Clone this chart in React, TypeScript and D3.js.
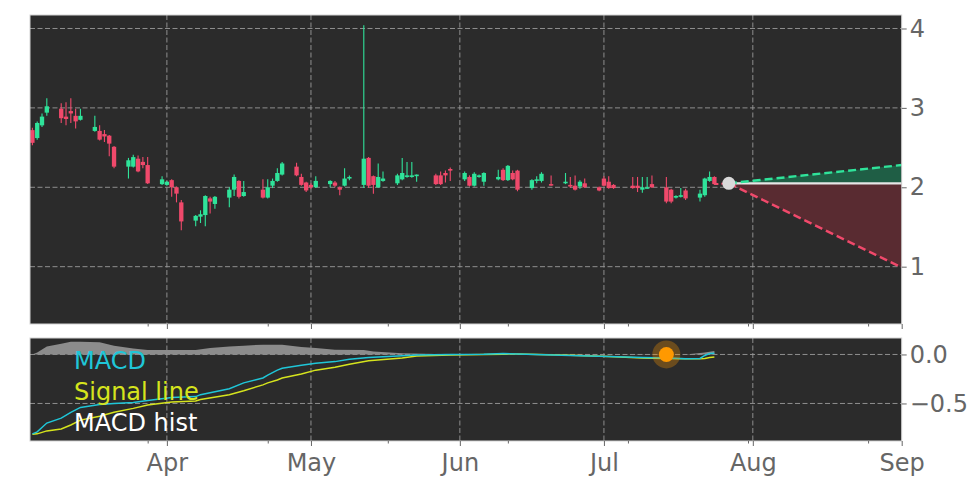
import React, { useEffect, useRef } from 'react'
import * as d3 from 'd3'

// daily candles (trading days, 2025)
const candleDates = [
  '2025-03-04', '2025-03-05', '2025-03-06', '2025-03-07', '2025-03-10', '2025-03-11', '2025-03-12', '2025-03-13', '2025-03-14',
  '2025-03-17', '2025-03-18', '2025-03-19', '2025-03-20', '2025-03-21', '2025-03-24', '2025-03-25', '2025-03-26', '2025-03-27',
  '2025-03-28', '2025-03-31', '2025-04-01', '2025-04-02', '2025-04-03', '2025-04-04', '2025-04-07', '2025-04-08', '2025-04-09',
  '2025-04-10', '2025-04-11', '2025-04-14', '2025-04-15', '2025-04-16', '2025-04-17', '2025-04-21', '2025-04-22', '2025-04-23',
  '2025-04-24', '2025-04-25', '2025-04-28', '2025-04-29', '2025-04-30', '2025-05-01', '2025-05-02', '2025-05-05', '2025-05-06',
  '2025-05-07', '2025-05-08', '2025-05-09', '2025-05-12', '2025-05-13', '2025-05-14', '2025-05-15', '2025-05-16', '2025-05-19',
  '2025-05-20', '2025-05-21', '2025-05-22', '2025-05-23', '2025-05-27', '2025-05-28', '2025-05-29', '2025-05-30', '2025-06-02',
  '2025-06-03', '2025-06-04', '2025-06-05', '2025-06-06', '2025-06-09', '2025-06-10', '2025-06-11', '2025-06-12', '2025-06-13',
  '2025-06-16', '2025-06-17', '2025-06-18', '2025-06-20', '2025-06-23', '2025-06-24', '2025-06-25', '2025-06-26', '2025-06-27',
  '2025-06-30', '2025-07-01', '2025-07-02', '2025-07-03', '2025-07-07', '2025-07-08', '2025-07-09', '2025-07-10', '2025-07-11',
  '2025-07-14', '2025-07-15', '2025-07-16', '2025-07-17', '2025-07-18', '2025-07-21', '2025-07-22', '2025-07-23', '2025-07-24',
]
const opens = [
  2.72, 2.62, 2.78, 2.94, 2.99, 2.89, 2.96, 2.90, 2.85,
  2.71, 2.71, 2.67, 2.65, 2.51, 2.26, 2.26, 2.36, 2.32,
  2.28, 2.04, 2.03, 2.09, 2.00, 1.81, 1.58, 1.63, 1.65,
  1.86, 1.79, 1.87, 1.97, 2.08, 1.89, 1.97, 1.87, 2.02,
  2.08, 2.16, 2.26, 2.13, 2.06, 2.03, 2.00, 2.04, 2.06,
  2.00, 2.02, 2.11, 2.03, 2.37, 2.14, 2.00, 2.08, 2.05,
  2.10, 2.13, 2.13, 2.14, 2.15, 2.15, 2.18, 2.23, 2.10,
  2.13, 2.02, 2.13, 2.07, 2.10, 2.22, 2.09, 2.18, 2.21,
  1.99, 2.08, 2.08, 2.04, 2.05, 2.03, 2.02, 2.01, 2.05,
  2.00, 2.11, 2.07, 2.03, 2.02, 2.02, 1.97, 1.99, 2.04,
  2.00, 1.97, 1.87, 1.88, 1.96, 1.87, 1.90, 2.08, 2.13,
]
const highs = [
  2.75, 2.83, 2.93, 3.12, 3.06, 3.07, 3.12, 2.99, 2.99,
  2.90, 2.78, 2.72, 2.66, 2.52, 2.37, 2.41, 2.40, 2.38,
  2.38, 2.14, 2.08, 2.10, 2.01, 1.84, 1.65, 1.71, 1.90,
  1.88, 1.89, 2.00, 2.16, 2.09, 2.08, 2.10, 2.10, 2.11,
  2.24, 2.32, 2.31, 2.17, 2.07, 2.05, 2.14, 2.09, 2.08,
  2.01, 2.24, 2.15, 4.04, 2.38, 2.15, 2.30, 2.20, 2.17,
  2.37, 2.32, 2.32, 2.16, 2.17, 2.20, 2.21, 2.25, 2.20,
  2.15, 2.19, 2.16, 2.19, 2.22, 2.24, 2.28, 2.21, 2.22,
  2.10, 2.14, 2.19, 2.15, 2.18, 2.13, 2.15, 2.09, 2.11,
  2.01, 2.14, 2.14, 2.04, 2.13, 2.13, 2.13, 2.13, 2.15,
  2.13, 1.98, 1.90, 1.99, 1.98, 1.97, 2.12, 2.20, 2.14,
]
const lows = [
  2.53, 2.60, 2.76, 2.90, 2.81, 2.78, 2.81, 2.74, 2.84,
  2.70, 2.59, 2.57, 2.39, 2.24, 2.11, 2.25, 2.19, 2.24,
  2.04, 2.03, 2.02, 1.88, 1.81, 1.46, 1.51, 1.55, 1.51,
  1.67, 1.73, 1.75, 1.89, 1.86, 1.88, 1.86, 1.86, 1.99,
  2.07, 2.15, 2.14, 2.02, 1.94, 1.98, 1.99, 2.00, 2.00,
  1.90, 2.01, 2.09, 1.99, 1.99, 1.92, 1.99, 2.07, 2.03,
  2.09, 2.12, 2.12, 2.07, 2.03, 2.03, 2.06, 2.08, 2.08,
  2.01, 2.01, 2.12, 2.02, 2.09, 2.08, 2.08, 2.09, 1.95,
  1.97, 2.05, 2.06, 2.02, 2.04, 1.99, 1.96, 1.98, 1.99,
  1.95, 2.01, 1.98, 1.98, 1.98, 1.94, 1.93, 1.98, 1.99,
  1.80, 1.80, 1.86, 1.87, 1.84, 1.82, 1.88, 2.07, 2.03,
]
const closes = [
  2.56, 2.81, 2.89, 3.02, 2.87, 2.86, 2.93, 2.83, 2.90,
  2.76, 2.60, 2.64, 2.55, 2.26, 2.34, 2.38, 2.20, 2.28,
  2.05, 2.10, 2.07, 2.00, 1.92, 1.57, 1.64, 1.66, 1.89,
  1.82, 1.88, 1.97, 2.13, 1.88, 1.94, 1.87, 2.00, 2.08,
  2.18, 2.30, 2.15, 2.03, 1.96, 2.00, 2.08, 2.08, 2.02,
  1.97, 2.11, 2.13, 2.36, 2.02, 2.03, 2.13, 2.11, 2.15,
  2.18, 2.15, 2.15, 2.16, 2.04, 2.04, 2.15, 2.21, 2.18,
  2.02, 2.17, 2.15, 2.18, 2.13, 2.09, 2.27, 2.10, 1.97,
  2.09, 2.10, 2.17, 2.03, 2.07, 2.01, 1.97, 2.07, 2.00,
  1.96, 2.02, 1.99, 1.99, 1.99, 1.99, 2.00, 2.00, 2.00,
  1.82, 1.82, 1.89, 1.90, 1.86, 1.92, 2.11, 2.13, 2.04,
]

// forecast cone
const forecastDates = ['2025-07-27', '2025-09-01']
const forecastFlat = [2.05, 2.05]
const forecastUpper = [2.05, 2.28]
const forecastLower = [2.05, 0.99]

// MACD panel
const macdDates = [
  '2025-03-04', '2025-03-05', '2025-03-07', '2025-03-10', '2025-03-12', '2025-03-14', '2025-03-18', '2025-03-21',
  '2025-03-25', '2025-03-28', '2025-04-02', '2025-04-07', '2025-04-08', '2025-04-14', '2025-04-17', '2025-04-21',
  '2025-04-22', '2025-04-24', '2025-04-25', '2025-04-29', '2025-05-02', '2025-05-06', '2025-05-09', '2025-05-13',
  '2025-05-20', '2025-05-23', '2025-05-30', '2025-06-06', '2025-06-10', '2025-06-13', '2025-06-24', '2025-07-02',
  '2025-07-09', '2025-07-14', '2025-07-18', '2025-07-21', '2025-07-22', '2025-07-23', '2025-07-24',
]
const macdValues = [
  -0.81, -0.79, -0.70, -0.65, -0.59, -0.54, -0.51, -0.50,
  -0.49, -0.47, -0.44, -0.43, -0.41, -0.35, -0.29, -0.24,
  -0.21, -0.16, -0.14, -0.11, -0.09, -0.073, -0.05, -0.03,
  -0.012, -0.005, 0.0, 0.003, 0.01, 0.005, -0.01, -0.02,
  -0.03, -0.035, -0.045, -0.04, -0.01, 0.01, 0.012,
]
const signalValues = [
  -0.815, -0.81, -0.78, -0.76, -0.72, -0.67, -0.63, -0.59,
  -0.55, -0.515, -0.485, -0.475, -0.46, -0.41, -0.37, -0.31,
  -0.29, -0.26, -0.24, -0.20, -0.16, -0.13, -0.10, -0.065,
  -0.035, -0.015, -0.005, 0.0, 0.003, 0.005, -0.008, -0.02,
  -0.035, -0.04, -0.045, -0.045, -0.04, -0.03, -0.025,
]
const histDates = [
  '2025-03-04', '2025-03-05', '2025-03-07', '2025-03-10', '2025-03-12', '2025-03-14', '2025-03-18', '2025-03-21',
  '2025-03-25', '2025-03-28', '2025-04-02', '2025-04-07', '2025-04-10', '2025-04-14', '2025-04-17', '2025-04-21',
  '2025-04-25', '2025-04-29', '2025-05-02', '2025-05-06', '2025-05-12', '2025-05-14', '2025-05-20', '2025-05-27',
  '2025-06-02', '2025-06-13', '2025-06-24', '2025-07-09', '2025-07-18', '2025-07-22', '2025-07-24',
]
const histValues = [
  0.0, 0.02, 0.08, 0.11, 0.13, 0.13, 0.125, 0.09,
  0.06, 0.045, 0.045, 0.045, 0.065, 0.08, 0.09, 0.1,
  0.1, 0.075, 0.065, 0.047, 0.046, 0.03, 0.012, 0.005,
  0.0, 0.0, -0.003, 0.003, 0.0, 0.02, 0.035,
]
const crossDate = '2025-07-14'
const crossValue = 0.0

const monthTicks = ['2025-04-01', '2025-05-01', '2025-06-01', '2025-07-01', '2025-08-01', '2025-09-01']
const minorTicks = ['2025-03-28', '2025-04-22', '2025-05-17', '2025-06-11', '2025-07-06', '2025-07-31', '2025-08-25']
const priceTicks = [1, 2, 3, 4]
const macdTicks = [0, -0.5]

const GREEN = '#2fe39a'
const RED = '#f0496b'
const FONT = 'DejaVu Sans'

export default function App() {
  const ref = useRef<SVGSVGElement | null>(null)

  useEffect(() => {
    const svg = d3.select(ref.current!)
    svg.selectAll('*').remove()
    const parse = d3.timeParse('%Y-%m-%d')
    const P = (s: string) => parse(s) as Date

    const left = 30, right = 901.7
    const main = { top: 15, bottom: 324 }
    const sub = { top: 338, bottom: 441 }

    const x = d3.scaleTime().domain([new Date(2025, 2, 3, 12), new Date(2025, 8, 1)]).range([left, right])
    const y = d3.scaleLinear().domain([0.278, 4.17]).range([main.bottom, main.top])
    const ym = d3.scaleLinear().domain([-0.883, 0.168]).range([sub.bottom, sub.top])

    const panel = (p: { top: number; bottom: number }) =>
      svg.append('rect').attr('x', left).attr('y', p.top).attr('width', right - left).attr('height', p.bottom - p.top).attr('fill', '#2b2b2b')
    panel(main)
    panel(sub)

    const grid = svg.append('g').attr('stroke', '#9a9a9a').attr('stroke-width', 0.9).attr('stroke-dasharray', '5,2.5')
    const months = monthTicks.map(P)
    for (const p of [main, sub]) {
      grid.selectAll(null).data(months.slice(0, -1)).enter().append('line')
        .attr('x1', d => x(d)).attr('x2', d => x(d)).attr('y1', p.top).attr('y2', p.bottom)
    }
    grid.selectAll(null).data(priceTicks).enter().append('line')
      .attr('x1', left).attr('x2', right).attr('y1', d => y(d)).attr('y2', d => y(d))
    grid.selectAll(null).data(macdTicks).enter().append('line')
      .attr('x1', left).attr('x2', right).attr('y1', d => ym(d)).attr('y2', d => ym(d))

    // forecast cone
    const fd = forecastDates.map(P)
    const fx = (i: number) => x(fd[i])
    const areaPts = (vals: number[]) => [[fx(0), y(forecastFlat[0])], [fx(1), y(forecastFlat[1])], [fx(1), y(vals[1])], [fx(0), y(vals[0])]]
    const poly = (pts: number[][]) => 'M' + pts.map(p => p.join(',')).join('L') + 'Z'
    svg.append('path').attr('d', poly(areaPts(forecastUpper))).attr('fill', '#1f5e45')
    svg.append('path').attr('d', poly(areaPts(forecastLower))).attr('fill', '#592b31')
    svg.append('line').attr('x1', fx(0)).attr('x2', fx(1)).attr('y1', y(forecastFlat[0])).attr('y2', y(forecastFlat[1]))
      .attr('stroke', '#e6e6e6').attr('stroke-width', 2.2)
    svg.append('line').attr('x1', fx(0)).attr('x2', fx(1)).attr('y1', y(forecastUpper[0])).attr('y2', y(forecastUpper[1]))
      .attr('stroke', GREEN).attr('stroke-width', 2.4).attr('stroke-dasharray', '8,4')
    svg.append('line').attr('x1', fx(0)).attr('x2', fx(1)).attr('y1', y(forecastLower[0])).attr('y2', y(forecastLower[1]))
      .attr('stroke', RED).attr('stroke-width', 2.4).attr('stroke-dasharray', '8,4')
    const lastIdx = candleDates.length - 1
    svg.append('line').attr('x1', x(P(candleDates[lastIdx]))).attr('x2', fx(0))
      .attr('y1', y(closes[lastIdx])).attr('y2', y(forecastFlat[0]))
      .attr('stroke', RED).attr('stroke-width', 2).attr('stroke-dasharray', '4,3')

    // candles
    const cd = candleDates.map(P)
    const bw = (x(new Date(2025, 3, 2)) - x(new Date(2025, 3, 1))) * 0.9
    const cg = svg.append('g')
    cd.forEach((d, i) => {
      const up = closes[i] >= opens[i]
      const col = up ? GREEN : RED
      const cx = x(d)
      cg.append('line').attr('x1', cx).attr('x2', cx).attr('y1', y(highs[i])).attr('y2', y(lows[i]))
        .attr('stroke', col).attr('stroke-width', 1.1)
      const top = y(Math.max(opens[i], closes[i]))
      const h = Math.max(1.5, y(Math.min(opens[i], closes[i])) - top)
      cg.append('rect').attr('x', cx - bw / 2).attr('y', top).attr('width', bw).attr('height', h).attr('fill', col)
    })
    svg.append('circle').attr('cx', fx(0)).attr('cy', y(forecastFlat[0])).attr('r', 6.5).attr('fill', '#d9d9d9')

    // MACD panel
    const hd = histDates.map(P)
    svg.append('path')
      .attr('d', d3.area<number>().x((_, i) => x(hd[i])).y0(ym(0)).y1(v => ym(v))(histValues)!)
      .attr('fill', '#8c8c8c')
    const md = macdDates.map(P)
    const line = d3.line<number>().x((_, i) => x(md[i])).y(v => ym(v))
    svg.append('path').attr('d', line(signalValues)!).attr('fill', 'none').attr('stroke', '#d6e41d').attr('stroke-width', 1.5)
    svg.append('path').attr('d', line(macdValues)!).attr('fill', 'none').attr('stroke', '#1fc6d8').attr('stroke-width', 1.5)
    svg.append('circle').attr('cx', x(P(crossDate))).attr('cy', ym(crossValue)).attr('r', 14).attr('fill', '#ff9900').attr('opacity', 0.3)
    svg.append('circle').attr('cx', x(P(crossDate))).attr('cy', ym(crossValue)).attr('r', 7.5).attr('fill', '#ff9900')

    const legend = [['MACD', '#1fc6d8', 369], ['Signal line', '#d6e41d', 400], ['MACD hist', '#ffffff', 431]] as const
    legend.forEach(([t, c, by]) => {
      svg.append('text').attr('x', 74).attr('y', by).attr('fill', c).attr('font-family', FONT).attr('font-size', 24).text(t)
    })

    // borders
    for (const p of [main, sub]) {
      svg.append('rect').attr('x', left).attr('y', p.top).attr('width', right - left).attr('height', p.bottom - p.top)
        .attr('fill', 'none').attr('stroke', '#d4d4d4').attr('stroke-width', 1)
    }

    // axes
    const style = (g: d3.Selection<SVGGElement, unknown, null, undefined>) => {
      g.select('.domain').remove()
      g.selectAll('line').attr('stroke', '#666')
      g.selectAll('text').attr('fill', '#666').attr('font-family', FONT).attr('font-size', 24)
    }
    svg.append('g').attr('transform', `translate(${right},0)`)
      .call(d3.axisRight(y).tickValues(priceTicks).tickSize(5).tickPadding(3).tickFormat(d3.format('d')))
      .call(style)
    svg.append('g').attr('transform', `translate(${right},0)`)
      .call(d3.axisRight(ym).tickValues(macdTicks).tickSize(5).tickPadding(3).tickFormat(d3.format('.1f')))
      .call(style)
    svg.append('g').attr('transform', `translate(0,${main.bottom})`)
      .call(d3.axisBottom(x).tickValues(months).tickSize(5).tickFormat(() => ''))
      .call(style)
    svg.append('g').attr('transform', `translate(0,${sub.bottom})`)
      .call(d3.axisBottom(x).tickValues(months).tickSize(5).tickPadding(8).tickFormat(d => d3.timeFormat('%b')(d as Date)))
      .call(style)
    for (const p of [main, sub]) {
      svg.append('g').attr('transform', `translate(0,${p.bottom})`)
        .call(d3.axisBottom(x).tickValues(minorTicks.map(P)).tickSize(2.5).tickFormat(() => ''))
        .call(style)
    }
  }, [])

  return <svg ref={ref} width={972} height={486} style={{ position: 'absolute', left: 0, top: 0 }} />
}
